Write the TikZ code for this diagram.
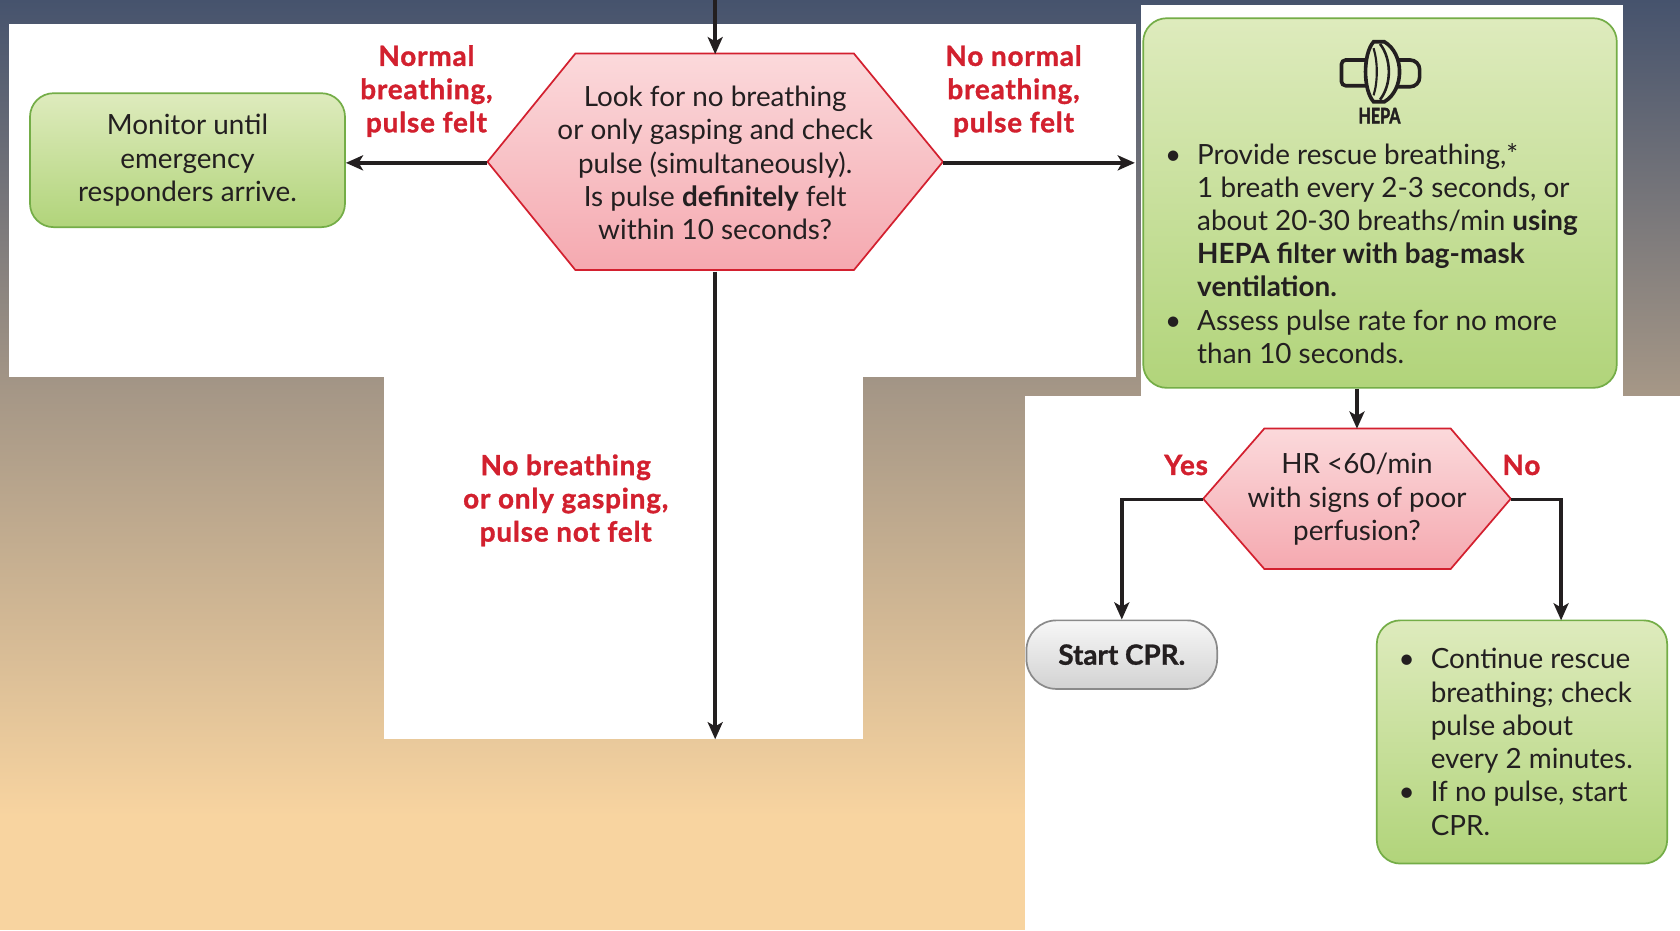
\documentclass[tikz,border=0pt]{standalone}
\usepackage{fontspec}
\setmainfont{Lato}
\usetikzlibrary{arrows.meta,calc}
\definecolor{bgtop}{HTML}{46536D}
\definecolor{bgmid}{HTML}{A49686}
\definecolor{bgbot}{HTML}{F8D4A0}
\definecolor{pinktop}{HTML}{FBD9DB}
\definecolor{pinkbot}{HTML}{F5A9B0}
\definecolor{pinkline}{HTML}{D3202F}
\definecolor{greentop}{HTML}{DEEBBD}
\definecolor{greenbot}{HTML}{B1D47A}
\definecolor{greenline}{HTML}{74AD47}
\definecolor{redtxt}{HTML}{D2202E}
\definecolor{txt}{HTML}{231F20}
\definecolor{greytop}{HTML}{F7F7F7}
\definecolor{greybot}{HTML}{D2D2D2}
\definecolor{greyline}{HTML}{8A8A8A}
\tikzset{
  body/.style={font=\fontsize{13}{15.5}\selectfont, text=txt, align=center, inner sep=0pt},
  gbox/.style={body, draw=greenline, line width=0.8pt, top color=greentop, bottom color=greenbot, rounded corners=11pt},
  greybox/.style={body, draw=greyline, line width=0.8pt, top color=greytop, bottom color=greybot, rounded corners=14pt},
  hexfill/.style={draw=pinkline, line width=0.8pt, top color=pinktop, bottom color=pinkbot},
  redlbl/.style={font=\fontsize{13}{15.5}\selectfont\bfseries\addfontfeatures{LetterSpace=3,FakeBold=1.2}, text=redtxt, align=center, inner sep=0pt},
  arr/.style={draw=txt, line width=1.6pt, -{Stealth[length=8pt,width=7pt,inset=2pt]}},
  icon/.style={draw=txt, line width=1.7pt},
}
\newcommand{\bul}{\llap{\textbullet\kern7.5pt}}
\begin{document}
\begin{tikzpicture}[x=0.5pt,y=-0.5pt]
\useasboundingbox (0,0) rectangle (1568,868);
% background
\shade[top color=bgtop,bottom color=bgmid] (0,0) rectangle (1568,362);
\shade[top color=bgmid,bottom color=bgbot] (0,360) rectangle (1568,762);
\fill[bgbot] (0,760) rectangle (1568,868);
% white panels
\fill[white] (8,22) rectangle (1060,352);
\fill[white] (358,351) rectangle (805,690);
\fill[white] (1065,5) rectangle (1515,370);
\fill[white] (957,370) rectangle (1568,868);
% hexagons
\shade[hexfill] (537,50) -- (797,50) -- (880,151) -- (797,252) -- (537,252) -- (455,151) -- cycle;
\shade[hexfill] (1180,400) -- (1354,400) -- (1410,465.5) -- (1354,531) -- (1180,531) -- (1123,465.5) -- cycle;
% decision nodes
\node[body, minimum width=212.5pt, minimum height=101pt] (q1) at (667.5,152)
  {Look for no breathing\\or only gasping and check\\pulse (simultaneously).\\Is pulse \textbf{definitely} felt\\within 10 seconds?};
\node[body, minimum width=143.5pt, minimum height=65.5pt] (q2) at (1266.5,466)
  {HR <60/min\\with signs of poor\\perfusion?};
% boxes
\node[gbox, minimum width=147pt, minimum height=62.5pt] (mon) at (175,149.5)
  {Monitor until\\emergency\\responders arrive.};
\node[gbox, minimum width=221pt, minimum height=172.5pt] (hepa) at (1288,189.5) {};
\node[greybox, minimum width=89pt, minimum height=32pt] (start) at (1047,611)
  {\bfseries\addfontfeatures{FakeBold=1}Start CPR.};
\node[gbox, minimum width=135.5pt, minimum height=113.5pt] (cont) at (1420.5,692.5) {};
% HEPA icon
\draw[icon, rounded corners=2pt] (1279,56) -- (1252,56) -- (1252,80) -- (1279,80);
\draw[icon, rounded corners=4.5pt] (1300,56) -- (1325,56) -- (1325,81) -- (1300,81);
\filldraw[icon, fill=greentop] (1282,39) -- (1292,39) .. controls (1311,50) and (1311,84) .. (1292,95) -- (1282,95) .. controls (1272,84) and (1272,50) .. (1282,39) -- cycle;
\draw[draw=txt, line width=1.2pt] (1288,41) .. controls (1299,55) and (1299,79) .. (1288,93);
\draw[draw=txt, line width=1.0pt] (1282,45) .. controls (1286,58) and (1286,76) .. (1282,89);
\node[font=\fontsize{10}{10}\selectfont\bfseries\addfontfeatures{FakeBold=2.5}, text=txt, inner sep=0pt] (hepalbl) at (1287.5,108) {\scalebox{0.75}[1]{HEPA}};
% box texts
\node[body, align=left, anchor=west] (hepatxt) at (1117,241)
  {\bul Provide rescue breathing,*\\1 breath every 2-3 seconds, or\\about 20-30 breaths/min \textbf{using}\\\textbf{HEPA filter with bag-mask}\\\textbf{ventilation.}\\\bul Assess pulse rate for no more\\than 10 seconds.\strut};
\node[body, align=left, anchor=west] (conttxt) at (1335,697)
  {\bul Continue rescue\\breathing; check\\pulse about\\every 2 minutes.\\\bul If no pulse, start\\CPR.\strut};
% labels
\node[redlbl] (l1) at (398,85) {Normal\\breathing,\\pulse felt};
\node[redlbl] (l2) at (946,85) {No normal\\breathing,\\pulse felt};
\node[redlbl] (l3) at (528,467) {No breathing\\or only gasping,\\pulse not felt};
\node[redlbl] (lyes) at (1107,434) {Yes};
\node[redlbl] (lno) at (1420,434) {No};
% connectors
\coordinate (topin) at (667.5,0);
\coordinate (dn) at (667.5,690);
\coordinate (noend) at (1457,579);
\draw[arr] (topin) -- (q1.north);
\draw[arr] (q1.west) -- (q1.west -| mon.east);
\draw[arr, shorten >=3.5pt] (q1.east) -- (q1.east -| hepa.west);
\draw[arr] (q1.south) -- (dn);
\draw[arr] (q2.north |- hepa.south) -- (q2.north);
\draw[arr] (q2.west) -| (start.north);
\draw[arr] (q2.east) -| (noend);
\end{tikzpicture}
\end{document}
